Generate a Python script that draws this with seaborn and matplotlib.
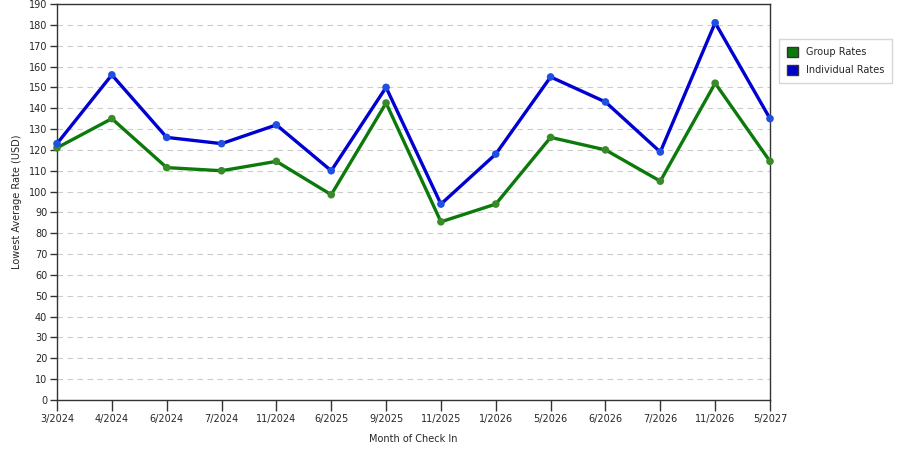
import matplotlib
matplotlib.use("Agg")
import matplotlib.pyplot as plt
import seaborn as sns
import pandas as pd
from matplotlib.patches import Patch

months = ["3/2024", "4/2024", "6/2024", "7/2024", "11/2024", "6/2025", "9/2025",
          "11/2025", "1/2026", "5/2026", "6/2026", "7/2026", "11/2026", "5/2027"]
group_rates = [121, 135, 111.5, 110, 114.5, 98.5, 142.5, 85.5, 94, 126, 120, 105, 152, 114.5]
individual_rates = [123, 156, 126, 123, 132, 110, 150, 94, 118, 155, 143, 119, 181, 135]
series_names = ["Group Rates", "Individual Rates"]
colors = {"Group Rates": "#0b7a0b", "Individual Rates": "#0000d0"}
marker_colors = {"Group Rates": "#3a8a2a", "Individual Rates": "#2050e0"}

sns.set_theme(style="white")
plt.rcParams['font.family'] = ['DejaVu Sans']

df = pd.DataFrame({
    "pos": list(range(len(months))) * 2,
    "rate": group_rates + individual_rates,
    "series": [series_names[0]] * len(months) + [series_names[1]] * len(months),
})

fig = plt.figure(figsize=(9, 4.5), dpi=100)
ax = fig.add_axes([57/900, 50/450, 713/900, 396/450])

sns.lineplot(data=df, x="pos", y="rate", hue="series", palette=colors,
             linewidth=2.4, legend=False, ax=ax, zorder=3)
sns.scatterplot(data=df, x="pos", y="rate", hue="series", palette=marker_colors,
                s=30, linewidth=0, legend=False, ax=ax, zorder=4, clip_on=False)

ax.set_xlim(0, len(months) - 1)
ax.set_ylim(0, 190)
ax.set_xticks(range(len(months)))
ax.set_xticklabels(months)
ax.set_yticks(range(0, 191, 10))
ax.tick_params(axis="x", length=8, width=1, color="#333333", labelsize=7, pad=2, direction="out", bottom=True)
ax.tick_params(axis="y", length=5, width=1, color="#333333", labelsize=7, pad=2, direction="out", left=True)
ax.grid(axis="y", color="#cccccc", linestyle=(0, (5, 4)), linewidth=0.8)
ax.grid(axis="x", visible=False)
for s in ax.spines.values():
    s.set_color("#333333")
    s.set_linewidth(1)
ax.set_xlabel("Month of Check In", fontsize=7, labelpad=7)
ax.set_ylabel("Lowest Average Rate (USD)", fontsize=7, labelpad=5)

handles = [Patch(facecolor=colors[n], edgecolor="#333333", label=n) for n in series_names]
fig.legend(handles=handles, loc="upper left", bbox_to_anchor=(779/900, 1 - 39/450),
           borderaxespad=0, fontsize=7, frameon=True, fancybox=False, edgecolor="#cccccc",
           handlelength=1.2, handleheight=1.2, borderpad=0.8, labelspacing=0.8,
           handletextpad=0.8)

fig.savefig("out.png", dpi=100)
